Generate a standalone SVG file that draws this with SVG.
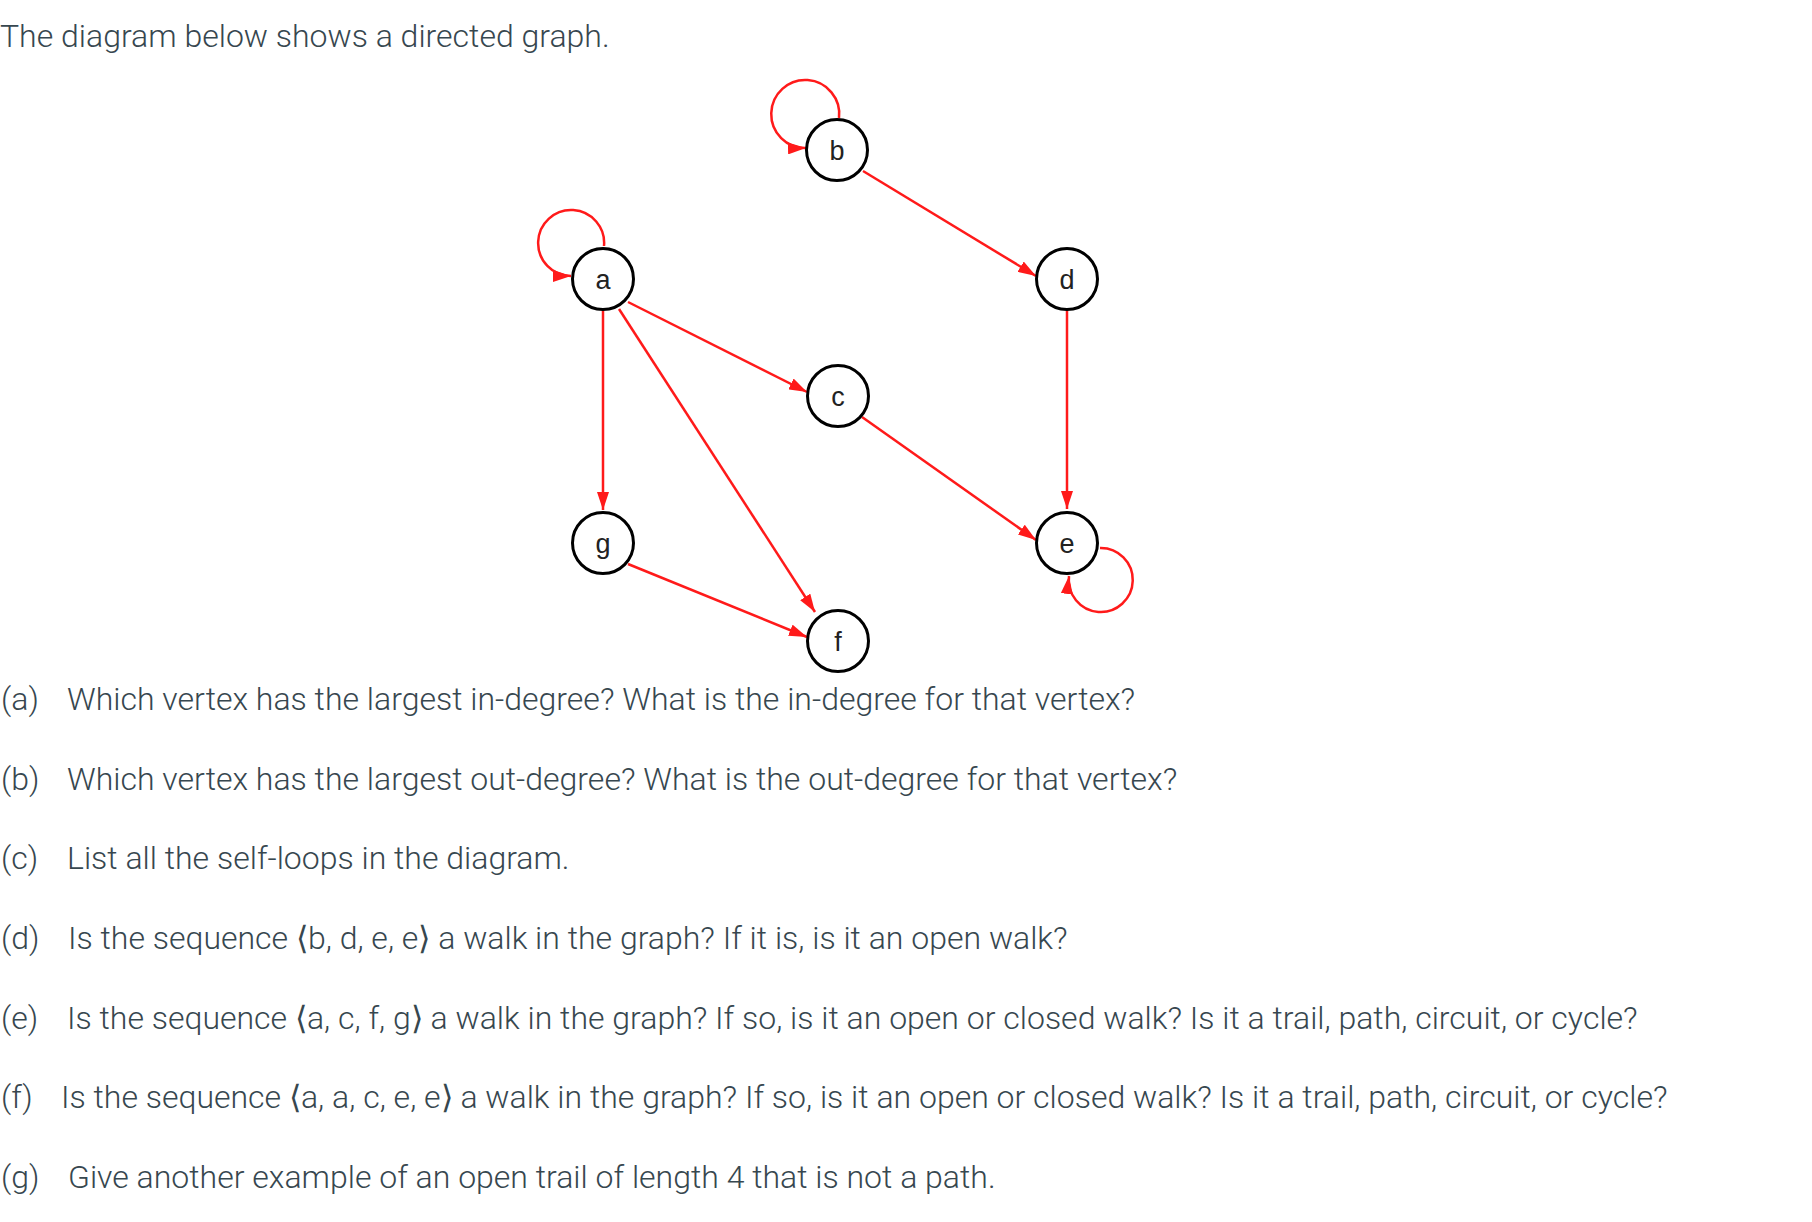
<svg xmlns="http://www.w3.org/2000/svg" width="1812" height="1222" viewBox="0 0 1812 1222">
<style>
.t{font-family:Roboto,"Noto Sans","DejaVu Sans",sans-serif;font-weight:300;fill:#37474f;font-size:32px}
.node circle{fill:#fff;stroke:#000;stroke-width:3}
.node text{font-family:"Liberation Sans",Arial,sans-serif;font-size:27px;fill:#222;text-anchor:middle}
.edge{fill:none;stroke:#ff1a1a;stroke-width:2.5;marker-end:url(#arr)}
</style>
<defs>
<marker id="arr" viewBox="0 0 18 12" refX="18" refY="6" markerWidth="18" markerHeight="12" markerUnits="userSpaceOnUse" orient="auto">
<path d="M0,0 L18,6 L0,12 z" fill="#ff1a1a"/>
</marker>
</defs>
<rect width="1812" height="1222" fill="#fff"/>
<text class="t" x="0" y="47">The diagram below shows a directed graph.</text>
<g id="connectors">
<path class="edge" d="M839,118 A34,34 0 1 0 806,148"/>
<path class="edge" d="M604,246 A33,33 0 1 0 571,276"/>
<path class="edge" d="M1100,548 A32,32 0 1 1 1069,576"/>
<path class="edge" d="M863,171 L1036,276"/>
<path class="edge" d="M628,302 L807,392"/>
<path class="edge" d="M603,310 L603,510"/>
<path class="edge" d="M619,309 L815,612"/>
<path class="edge" d="M862,417 L1036,540"/>
<path class="edge" d="M1067,310 L1067,509"/>
<path class="edge" d="M628,564 L807,637"/>
</g>
<g id="node-a" class="node"><circle cx="603" cy="279" r="30.5"/><text x="603" y="289">a</text></g>
<g id="node-b" class="node"><circle cx="837" cy="150" r="30.5"/><text x="837" y="160">b</text></g>
<g id="node-c" class="node"><circle cx="838" cy="396" r="30.5"/><text x="838" y="406">c</text></g>
<g id="node-d" class="node"><circle cx="1067" cy="279" r="30.5"/><text x="1067" y="289">d</text></g>
<g id="node-e" class="node"><circle cx="1067" cy="543" r="30.5"/><text x="1067" y="553">e</text></g>
<g id="node-f" class="node"><circle cx="838" cy="641" r="30.5"/><text x="838" y="651">f</text></g>
<g id="node-g" class="node"><circle cx="603" cy="543" r="30.5"/><text x="603" y="553">g</text></g>
<g id="questions">
<text class="t" x="1" y="710">(a)</text><text class="t" x="67" y="710">Which vertex has the largest in-degree? What is the in-degree for that vertex?</text>
<text class="t" x="1" y="790">(b)</text><text class="t" x="67" y="790">Which vertex has the largest out-degree? What is the out-degree for that vertex?</text>
<text class="t" x="1" y="869">(c)</text><text class="t" x="67" y="869">List all the self-loops in the diagram.</text>
<text class="t" x="1" y="949">(d)</text><text class="t" x="68" y="949">Is the sequence ⟨b, d, e, e⟩ a walk in the graph? If it is, is it an open walk?</text>
<text class="t" x="1" y="1029">(e)</text><text class="t" x="67" y="1029">Is the sequence ⟨a, c, f, g⟩ a walk in the graph? If so, is it an open or closed walk? Is it a trail, path, circuit, or cycle?</text>
<text class="t" x="1" y="1108">(f)</text><text class="t" x="61" y="1108">Is the sequence ⟨a, a, c, e, e⟩ a walk in the graph? If so, is it an open or closed walk? Is it a trail, path, circuit, or cycle?</text>
<text class="t" x="1" y="1188">(g)</text><text class="t" x="68" y="1188">Give another example of an open trail of length 4 that is not a path.</text>
</g>
</svg>
